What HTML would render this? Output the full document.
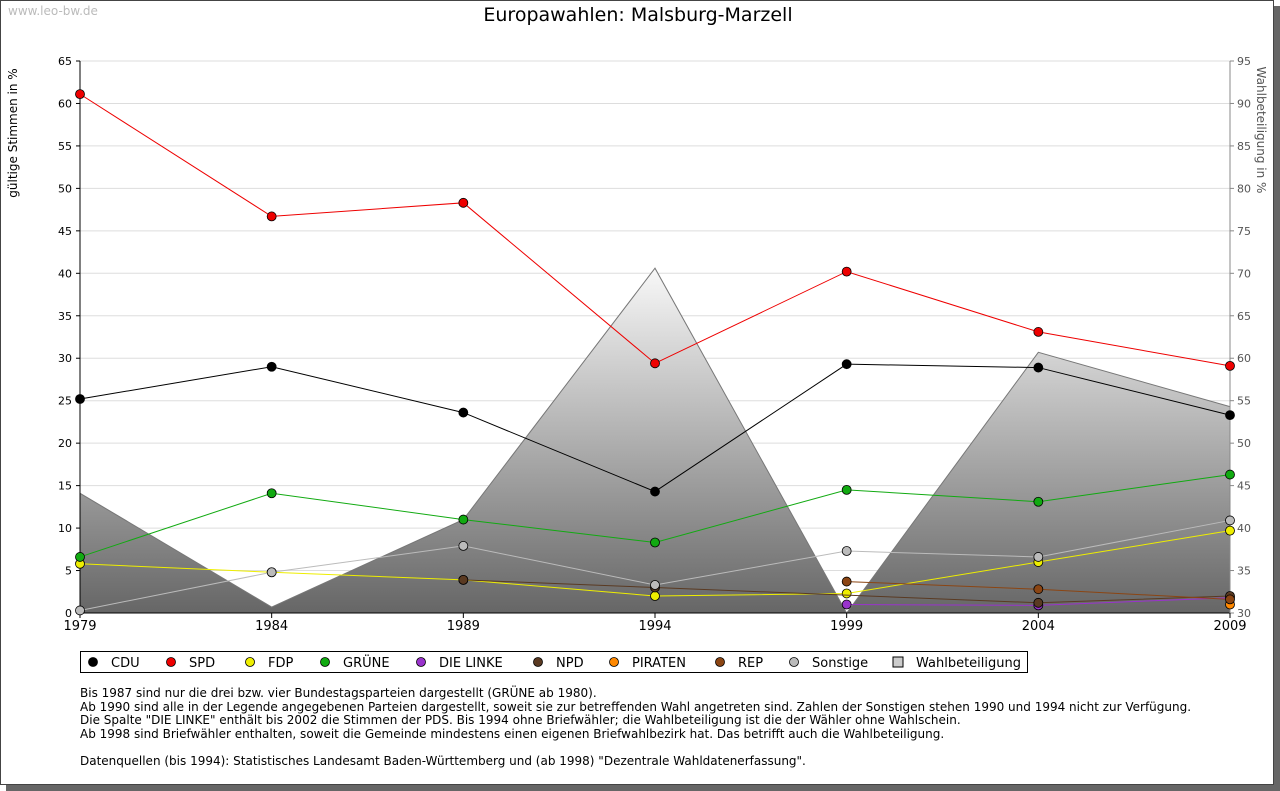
<!DOCTYPE html>
<html><head><meta charset="utf-8"><style>
body{margin:0;background:#fff;font-family:"DejaVu Sans","Liberation Sans",sans-serif}
#frame{position:absolute;left:0;top:0;width:1272px;height:783px;border:1px solid #444;background:#fff;box-shadow:6px 6px 0 #666}
.note{position:absolute;left:80px;font-size:12px;line-height:13.5px;color:#000;white-space:pre}
svg text{font-family:"DejaVu Sans","Liberation Sans",sans-serif}
</style></head><body>
<div id="frame"></div>
<svg id="c" width="1280" height="791" style="position:absolute;left:0;top:0">
<defs><linearGradient id="g" x1="0" y1="0" x2="0" y2="1"><stop offset="0" stop-color="#f8f8f8"/><stop offset="1" stop-color="#666"/></linearGradient></defs>
</svg>
<div class="note" style="top:687px">Bis 1987 sind nur die drei bzw. vier Bundestagsparteien dargestellt (GRÜNE ab 1980).
Ab 1990 sind alle in der Legende angegebenen Parteien dargestellt, soweit sie zur betreffenden Wahl angetreten sind. Zahlen der Sonstigen stehen 1990 und 1994 nicht zur Verfügung.
Die Spalte "DIE LINKE" enthält bis 2002 die Stimmen der PDS. Bis 1994 ohne Briefwähler; die Wahlbeteiligung ist die der Wähler ohne Wahlschein.
Ab 1998 sind Briefwähler enthalten, soweit die Gemeinde mindestens einen eigenen Briefwahlbezirk hat. Das betrifft auch die Wahlbeteiligung.

Datenquellen (bis 1994): Statistisches Landesamt Baden-Württemberg und (ab 1998) "Dezentrale Wahldatenerfassung".</div>
<script>
const years=[1979,1984,1989,1994,1999,2004,2009];
const turnout=[44.1,30.7,41,70.6,30,60.7,54.3];
const cdu=[25.2,29.0,23.6,14.3,29.3,28.9,23.3];
const spd=[61.1,46.7,48.3,29.4,40.2,33.1,29.1];
const fdp=[5.8,4.8,3.9,2.0,2.3,6.0,9.7];
const gruene=[6.6,14.1,11.0,8.3,14.5,13.1,16.3];
const linke=[null,null,null,null,1.0,0.9,1.8];
const npd=[null,null,3.9,3.0,null,1.2,2.0];
const piraten=[null,null,null,null,null,null,1.0];
const rep=[null,null,null,null,3.7,2.8,1.6];
const sonst=[0.3,4.8,7.9,3.3,7.3,6.6,10.9];
const leftTicks=[0,5,10,15,20,25,30,35,40,45,50,55,60,65];
const rightTicks=[30,35,40,45,50,55,60,65,70,75,80,85,90,95];
const NS="http://www.w3.org/2000/svg",svg=document.getElementById('c');
const X0=80,X1=1230,Y0=613,Y1=61;
const x=v=>X0+(v-1979)/(2009-1979)*(X1-X0);
const y=v=>Y0-v/65*(Y0-Y1);
const yr=v=>Y0-(v-30)/65*(Y0-Y1);
function el(t,a,p){const e=document.createElementNS(NS,t);for(const k in a)e.setAttribute(k,a[k]);(p||svg).appendChild(e);return e;}
let t=el('text',{x:638,y:21,'text-anchor':'middle','font-size':19});t.textContent='Europawahlen: Malsburg-Marzell';

t=el('text',{x:8,y:15,'font-size':12,fill:'#bbb'});t.textContent='www.leo-bw.de';

leftTicks.forEach(v=>{
 if(v>0){const g=el('line',{x1:X0,x2:X1,y1:y(v),y2:y(v),stroke:'#ddd'});}
 const l=el('text',{x:X0-8,y:y(v)+4,'text-anchor':'end','font-size':11});l.textContent=v;
 
});
let pts=[[x(years[0]),Y0]];years.forEach((yy,i)=>pts.push([x(yy),yr(turnout[i])]));pts.push([x(years[6]),Y0]);
const area=el('polygon',{points:pts.map(p=>p.join(',')).join(' '),fill:'url(#g)',stroke:'#777'});

el('line',{x1:X0,x2:X0,y1:Y1,y2:Y0,stroke:'#000'});
el('line',{x1:X0,x2:X1,y1:Y0,y2:Y0,stroke:'#000'});
el('line',{x1:X1,x2:X1,y1:Y1,y2:Y0,stroke:'#888'});
leftTicks.forEach(v=>el('line',{x1:X0-4,x2:X0,y1:y(v),y2:y(v),stroke:'#000'}));
rightTicks.forEach(v=>{el('line',{x1:X1,x2:X1+4,y1:yr(v),y2:yr(v),stroke:'#888'});
 const l=el('text',{x:X1+7,y:yr(v)+4,'font-size':11,fill:'#555'});l.textContent=v;
 });
years.forEach(yy=>{el('line',{x1:x(yy),x2:x(yy),y1:Y0,y2:Y0+5,stroke:'#000'});
 const l=el('text',{x:x(yy),y:Y0+17,'text-anchor':'middle','font-size':13});l.textContent=yy;
 });
t=el('text',{transform:'translate(17,133) rotate(-90)','text-anchor':'middle','font-size':12});t.textContent='gültige Stimmen in %';

t=el('text',{transform:'translate(1257,130) rotate(90)','text-anchor':'middle','font-size':12,fill:'#555'});t.textContent='Wahlbeteiligung in %';

const series=[['CDU',cdu,'#000'],['SPD',spd,'#e00'],['FDP',fdp,'#ee0'],['GRÜNE',gruene,'#1a1'],['DIE LINKE',linke,'#93c'],['NPD',npd,'#5a3a22'],['PIRATEN',piraten,'#f80'],['REP',rep,'#8b4513'],['Sonstige',sonst,'#bbb']];
series.forEach(([n,d,c])=>{
 const p=[];d.forEach((v,i)=>{if(v!=null)p.push([x(years[i]),y(v)]);});
 if(p.length>1){const l=el('polyline',{points:p.map(q=>q.join(',')).join(' '),fill:'none',stroke:c});
  }
 p.forEach(q=>{const m=el('circle',{cx:q[0],cy:q[1],r:4.5,fill:c,stroke:'#000','stroke-width':0.8});
  });
});
const lg=el('rect',{x:80.5,y:651.5,width:947,height:21,fill:'#fff',stroke:'#000'});

const lx=[93,171,250,325,421,538,614,720,794,898];
series.concat([['Wahlbeteiligung',null,'#ccc']]).forEach(([n,d,c],i)=>{
 const cx=lx[i];
 if(d)el('circle',{cx:cx,cy:662,r:4.5,fill:c,stroke:'#000','stroke-width':0.8});
 else el('rect',{x:cx-5,y:657,width:10,height:10,fill:c,stroke:'#000'});
 const l=el('text',{x:cx+18,y:667,'font-size':13});l.textContent=n;
 
});
</script>
</body></html>
